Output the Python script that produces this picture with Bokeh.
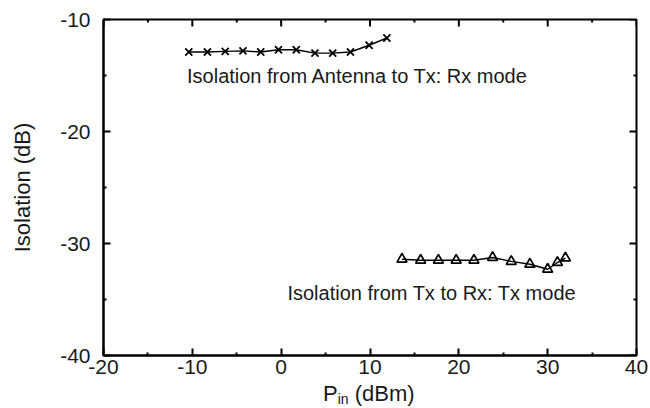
import math
from bokeh.plotting import figure
from bokeh.models import Range1d, FixedTicker, Div
from bokeh.layouts import column
from bokeh.embed import file_html
from bokeh.resources import INLINE

# ---- data ----
rx_pin = [-10.4, -8.3, -6.3, -4.3, -2.3, -0.3, 1.7, 3.8, 5.8, 7.8, 9.9, 11.9]
rx_iso = [-12.9, -12.9, -12.85, -12.8, -12.9, -12.7, -12.7, -13.0, -13.0, -12.9, -12.3, -11.65]

tx_pin = [13.6, 15.7, 17.7, 19.7, 21.7, 23.8, 25.9, 28.0, 30.0, 31.1, 32.0]
tx_iso = [-31.4, -31.5, -31.5, -31.5, -31.5, -31.25, -31.6, -31.85, -32.3, -31.7, -31.3]

x_major = [-20, -10, 0, 10, 20, 30, 40]
x_labels = ["-20", "-10", "0", "10", "20", "30", "40"]
x_minor = [-15, -5, 5, 15, 25, 35]
y_major = [-40, -30, -20, -10]
y_labels = ["-40", "-30", "-20", "-10"]
y_minor = [-35, -25, -15]

note_rx = "Isolation from Antenna to Tx: Rx mode"
note_tx = "Isolation from Tx to Rx: Tx mode"
y_title = "Isolation (dB)"
x_title = ["P", "in", " (dBm)"]

FONT = "Liberation Sans"
TXT = "#1a1a1a"

p = figure(width=650, height=386, output_backend="svg", toolbar_location=None,
           x_range=Range1d(-20, 40), y_range=Range1d(-40, -10),
           min_border_left=103, min_border_right=14, min_border_top=19, min_border_bottom=31)
p.margin = 0
p.background_fill_color = "white"
p.border_fill_color = "white"
p.outline_line_color = "black"
p.outline_line_width = 2
p.grid.visible = False

p.xaxis.ticker = FixedTicker(ticks=x_major, minor_ticks=x_minor)
p.yaxis.ticker = FixedTicker(ticks=y_major, minor_ticks=y_minor)
p.xaxis.major_label_overrides = dict(zip(x_major, x_labels))
p.yaxis.major_label_overrides = dict(zip(y_major, y_labels))
for ax in (p.xaxis[0], p.yaxis[0]):
    ax.major_tick_in = 7
    ax.major_tick_out = 0
    ax.minor_tick_in = 3
    ax.minor_tick_out = 0
    ax.major_tick_line_width = 2
    ax.minor_tick_line_width = 2
    ax.axis_line_width = 2
    ax.major_label_text_font = FONT
    ax.major_label_text_color = TXT
    ax.major_label_text_font_size = "21px"
p.yaxis.major_label_standoff = 13
p.xaxis.major_label_standoff = 4

p.yaxis.axis_label = y_title
p.yaxis.axis_label_text_font = FONT
p.yaxis.axis_label_text_font_size = "22px"
p.yaxis.axis_label_text_font_style = "normal"
p.yaxis.axis_label_text_color = TXT
p.yaxis.axis_label_standoff = 22

# mirrored ticks on top and right edges
top = p.y_range.end
right = p.x_range.end
p.ray(x=x_major, y=[top] * len(x_major), length=7, length_units="screen",
      angle=-math.pi / 2, line_color="black", line_width=2)
p.ray(x=x_minor, y=[top] * len(x_minor), length=3, length_units="screen",
      angle=-math.pi / 2, line_color="black", line_width=2)
p.ray(x=[right] * len(y_major), y=y_major, length=7, length_units="screen",
      angle=math.pi, line_color="black", line_width=2)
p.ray(x=[right] * len(y_minor), y=y_minor, length=3, length_units="screen",
      angle=math.pi, line_color="black", line_width=2)

# series
p.line(rx_pin, rx_iso, line_color="black", line_width=1.4)
p.scatter(rx_pin, rx_iso, marker="x", size=10, line_color="black", line_width=1.8)
p.line(tx_pin, tx_iso, line_color="black", line_width=1.4)
p.scatter(tx_pin, tx_iso, marker="triangle", size=10, line_color="black",
          fill_color=None, line_width=1.7)

# annotations
p.text(x=[-10.6], y=[-15.0], text=[note_rx], text_font_size="20px", text_color=TXT,
       text_baseline="middle", text_align="left", text_font={"value": FONT})
p.text(x=[0.7], y=[-34.45], text=[note_tx], text_font_size="20px", text_color=TXT,
       text_baseline="middle", text_align="left", text_font={"value": FONT})

# x axis title (P with subscript "in") as real text below the plot
title_html = (
    '<div style="margin:0 0 0 323px; padding:0; white-space:nowrap; '
    f'font-family:\'{FONT}\'; font-size:22px; line-height:16px; color:{TXT};">'
    f'{x_title[0]}<span style="font-size:14px; position:relative; top:3px;">{x_title[1]}</span>'
    f'{x_title[2].replace(" ", "&nbsp;")}</div>'
)
xt = Div(text=title_html, width=650, height=22, margin=0)

layout = column(p, xt, spacing=0)
open("out.html", "w").write(file_html(layout, INLINE))
